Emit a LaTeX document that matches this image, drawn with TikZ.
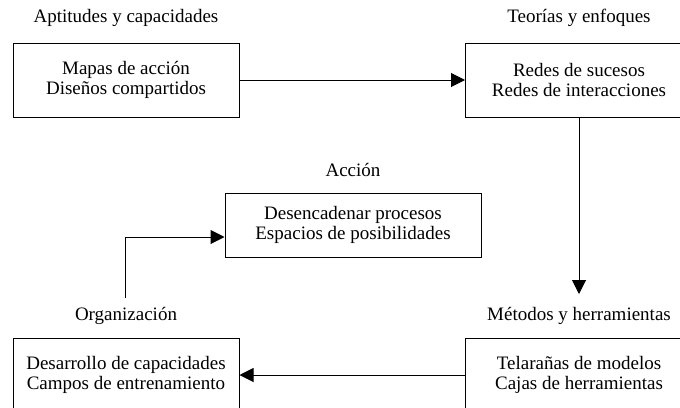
\documentclass[tikz,border=0pt]{standalone}
\usepackage{fontspec}
\setmainfont{Liberation Serif}
\usetikzlibrary{arrows.meta}

\tikzset{
  box/.style   ={rectangle, draw=black, line width=1pt, align=center, inner sep=0pt,
                 minimum width=226pt, minimum height=74pt,
                 font=\fontsize{19}{20.5}\selectfont},
  title/.style ={font=\fontsize{19}{20.5}\selectfont},
  flow/.style  ={draw, line width=1pt, -{Triangle[length=14pt,width=14pt]}},
}

\begin{document}
\begin{tikzpicture}[x=1pt, y=-1pt]
  \useasboundingbox (0,0) rectangle (680,407);
  \clip (0,0) rectangle (680,407);
  \node[title] (tapt) at (126, 18) {Aptitudes y capacidades};
  \node[title] (tteo) at (579, 18) {Teorías y enfoques};
  \node[title] (tacc) at (353, 170) {Acción};
  \node[title] (torg) at (126, 316) {Organización};
  \node[title] (tmet) at (579, 316) {Métodos y herramientas};
  \node[box] (apt) at (126, 80) {Mapas de acción\\Diseños compartidos};
  \node[box, minimum width=227pt] (teo) at (579, 80) {Redes de sucesos\\Redes de interacciones};
  \node[box, minimum width=256pt, minimum height=64pt] (acc) at (353, 225) {Desencadenar procesos\\Espacios de posibilidades};
  \node[box] (org) at (126, 375) {Desarrollo de capacidades\\Campos de entrenamiento};
  \node[box, minimum width=227pt] (met) at (579, 375) {Telarañas de modelos\\Cajas de herramientas};
  \coordinate (down) at (579, 294);
  \coordinate (up) at (125, 298);
  \draw[flow] (apt) -- (teo);
  \draw[flow] (teo) -- (down);
  \draw[flow] (met) -- (org);
  \draw[flow] (up) |- (acc.west |- 0,237);
\end{tikzpicture}
\end{document}
